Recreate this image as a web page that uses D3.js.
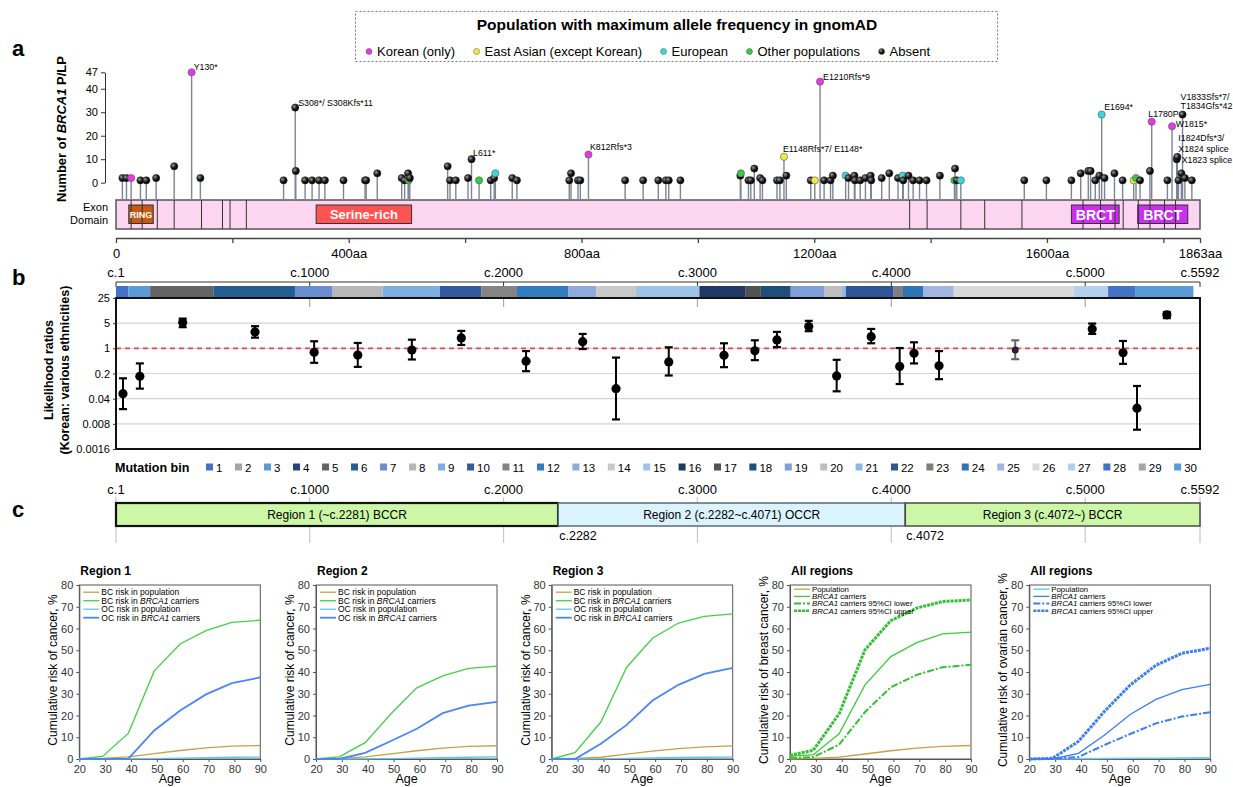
<!DOCTYPE html>
<html>
<head>
<meta charset="utf-8">
<script src="https://cdn.jsdelivr.net/npm/d3@7"></script>
<style>
body { margin: 0; background: #fff; }
svg { font-family: "Liberation Sans", Arial, sans-serif; }
</style>
</head>
<body>
<svg id="fig" width="1233" height="787"></svg>
<script>
// ---------- panel a: variants (amino-acid position, number of P/LP, population code) ----------
const variantAA = [11,18,26,42,52,69,100,130,145,288,308,309,325,337,349,359,391,428,430,449,491,496,502,503,505,
  570,574,584,605,611,624,644,650,652,681,689,779,782,794,798,812,875,906,932,945,950,970,
  1073,1074,1087,1091,1097,1107,1111,1136,1141,1148,1152,1194,1201,1210,1217,1228,1232,1254,1259,1269,1270,
  1279,1288,1297,1298,1316,1329,1344,1352,1353,1362,1370,1381,1393,1416,1442,1441,1445,1452,
  1561,1599,1642,1658,1671,1675,1683,1690,1694,1699,1716,1730,1749,1753,1760,1777,1780,1807,1815,
  1823,1824,1826,1831,1833,1837,1849];
const variantCount = [2,2,2,1,1,2,7,47,2,1,32,5,1,1,1,1,1,1,1,4,2,1,4,1,2,
  7,1,1,2,10,1,1,2,4,2,1,1,4,1,1,12,1,1,1,1,1,1,
  3,4,1,1,6,2,1,1,1,11,3,1,1,43,1,1,3,3,2,3,1,
  1,2,3,1,2,4,2,3,1,3,1,1,1,3,6,1,1,1,
  1,1,1,4,5,5,1,3,29,2,4,1,1,2,1,5,26,1,24,
  10,11,1,4,29,2,1];
// K = Korean (only), E = East Asian, U = European, O = other populations, A = absent
const variantPop = ["A","A","K","A","A","A","A","K","A","A","A","A","A","A","A","A","A","A","A","A","A","A","A","O","A",
  "A","A","A","A","A","O","A","A","U","A","A","A","A","A","A","K","A","A","A","A","A","A",
  "A","O","A","A","A","A","A","A","A","E","A","A","E","K","A","A","A","U","A","A","A",
  "A","A","A","A","A","A","A","U","A","A","A","A","A","A","A","O","A","U",
  "A","A","A","A","A","A","A","A","U","A","A","A","E","O","A","A","K","A","K",
  "A","A","A","A","A","A","A"];

const labelLines = [["Y130*"],["S308*/ S308Kfs*11"],["L611*"],["K812Rfs*3"],["E1148Rfs*7/ E1148*"],["E1210Rfs*9"],
  ["E1694*"],["L1780P"],["W1815*"],["V1833Sfs*7/","T1834Gfs*42"],["I1824Dfs*3/","X1824 splice"],["X1823 splice"]];
const labelAA = [130,308,611,812,1148,1210,1694,1780,1815,1833,1824,1823];
const labelCount = [47,32,10,12,11,43,29,26,24,29,11,10];

const exonBounds = [26,45,71,100,147,183,196,224,1364,1394,1452,1493,1557,1662,1692,1717,1731,1757,1777,1802,1821];
const domainName = ["RING","Serine-rich","BRCT","BRCT"];
const domainStart = [22,344,1642,1756];
const domainEnd = [64,508,1724,1842];

const popNames = ["Korean (only)","East Asian (except Korean)","European","Other populations","Absent"];
const popCodes = ["K","E","U","O","A"];

// ---------- panel b: likelihood ratios per mutation bin ----------
const binPos = [37,124,345,718,1023,1248,1527,1782,2116,2408,2580,2852,3137,3296,3410,3574,3718,3896,4043,4117,4246,4639,5036,5195,5267,5421];
const lrMid  = [0.055,0.168,5.2,2.86,0.773,0.65,0.90,1.94,0.44,1.53,0.076,0.42,0.64,0.857,1.71,4.02,0.171,2.11,0.314,0.725,0.326,0.90,3.46,0.753,0.0218,8.53];
const lrLow  = [0.0205,0.076,3.87,1.98,0.396,0.306,0.49,1.24,0.232,0.956,0.0106,0.176,0.30,0.47,1.087,2.99,0.064,1.38,0.102,0.381,0.139,0.50,2.51,0.371,0.0055,6.9];
const lrHigh = [0.147,0.381,6.7,4.12,1.57,1.41,1.74,3.05,0.84,2.51,0.553,1.07,1.38,1.67,2.86,5.8,0.48,3.46,1.02,1.47,0.84,1.67,4.87,1.6,0.09,10.2];
const lrTicks = [0.0016,0.008,0.04,0.2,1,5,25];

const segBin   = [1,3,5,6,7,8,9,10,11,12,13,14,15,16,17,18,19,20,21,22,23,24,25,26,27,28,30];
const segStart = [1,65,177,503,924,1115,1376,1672,1886,2069,2335,2477,2682,3010,3249,3327,3481,3656,3746,3766,4012,4060,4166,4322,4940,5118,5257];
const segLast = 5558;
const binColors = ["#4472c4","#a5a5a5","#5b9bd5","#264478","#636363","#255e91","#698ed0","#b7b7b7","#7cafdd","#335aa1",
  "#848484","#327dc2","#8faadc","#c9c9c9","#9dc3e6","#203864","#525252","#1f4e79","#7f9fd9","#bfbfbf",
  "#8cb8e3","#2f5597","#7f7f7f","#2e75b6","#a4b6e0","#d9d9d9","#b4d0ee","#4472c4","#a5a5a5","#5b9bd5"];
const cTicks = [1,1000,2000,3000,4000,5000,5592];

// ---------- panel c: regions ----------
const regionStart = [1,2282,4072];
const regionEnd = [2281,4071,5592];
const regionText = ["Region 1 (~c.2281) BCCR","Region 2 (c.2282~c.4071) OCCR","Region 3 (c.4072~) BCCR"];

// ---------- cumulative risk curves ----------
const ages = [20,29,39,49,59,69,79,90];
const r1BcPop = [0,0.3,1.0,2.5,3.9,5.1,5.9,6.2];
const r1BcCar = [0,1.2,11.9,40.5,52.9,59.0,62.8,63.8];
const r1OcPop = [0,0,0.1,0.2,0.4,0.6,0.8,0.9];
const r1OcCar = [0,0,0.2,13.1,22.3,29.7,34.9,37.5];
const r2BcPop = [0,0.3,1.0,2.4,3.8,5.0,5.8,6.1];
const r2BcCar = [0,1.0,7.5,20.8,32.7,38.2,41.7,42.7];
const r2OcPop = [0,0,0.1,0.2,0.4,0.6,0.8,1.0];
const r2OcCar = [0,0,2.8,8.3,13.9,21.1,24.5,26.3];
const r3BcPop = [0,0.3,0.8,2.2,3.6,4.8,5.6,6.0];
const r3BcCar = [0,2.9,17.0,42.2,55.5,62.5,65.6,66.7];
const r3OcPop = [0,0,0.1,0.3,0.5,0.7,0.8,0.9];
const r3OcCar = [0,0,7.0,15.7,26.9,34.1,39.1,41.9];
const allBcPop = [0,0.3,0.9,2.3,3.8,5.0,5.8,6.2];
const allBcCar = [1.2,2.0,11.6,34.1,47.1,53.5,57.5,58.3];
const allBcLow = [0.3,0.9,6.6,21.6,33.0,38.7,42.2,43.3];
const allBcUp  = [1.7,4.0,20.8,50.2,63.6,69.4,72.4,73.1];
const allOcPop = [0,0,0.1,0.2,0.3,0.4,0.5,0.6];
const allOcCar = [0,0,2.6,10.9,20.5,27.4,31.9,34.3];
const allOcLow = [0,0,0.9,6.4,11.5,16.4,19.5,21.5];
const allOcUp  = [0,0.3,8.1,21.8,34.0,43.1,48.6,50.9];

// ================= drawing =================
const svg = d3.select("#fig");
svg.append("rect").attr("width", 1233).attr("height", 787).attr("fill", "#fff");

const popColor = {K: "#e33be3", E: "#f2ea3c", U: "#3ad8e0", O: "#33cc44", A: "url(#blk)"};
const defs = svg.append("defs");
const grad = defs.append("radialGradient").attr("id", "blk").attr("cx", "35%").attr("cy", "35%").attr("r", "65%");
grad.append("stop").attr("offset", "0%").attr("stop-color", "#9a9a9a");
grad.append("stop").attr("offset", "60%").attr("stop-color", "#151515");
grad.append("stop").attr("offset", "100%").attr("stop-color", "#000");

function rich(sel, parts) {
  parts.forEach(p => sel.append("tspan").text(p[0]).attr("font-style", p[1] ? "italic" : null));
  return sel;
}

// panel letters
[["a", 56], ["b", 285], ["c", 517]].forEach(d => {
  svg.append("text").attr("x", 12).attr("y", d[1]).attr("font-size", 22).attr("font-weight", "bold").text(d[0]);
});

// ---------- legend box ----------
svg.append("rect").attr("x", 355.5).attr("y", 11.5).attr("width", 642).attr("height", 50)
  .attr("fill", "none").attr("stroke", "#777").attr("stroke-dasharray", "2,2");
svg.append("text").attr("x", 677).attr("y", 30).attr("text-anchor", "middle")
  .attr("font-size", 15.5).attr("font-weight", "bold").text("Population with maximum allele frequency in gnomAD");
let lx = 369;
popCodes.forEach((c, i) => {
  svg.append("circle").attr("cx", lx).attr("cy", 51.5).attr("r", 3).attr("fill", popColor[c]).attr("stroke", "#555").attr("stroke-width", 0.5);
  const t = svg.append("text").attr("x", lx + 8).attr("y", 56).attr("font-size", 13).text(popNames[i]);
  lx += 8 + t.node().getComputedTextLength() + 21.5;
});

// ---------- panel a ----------
const aaX = d3.scaleLinear().domain([0, 1863]).range([116, 1200]);
const cntY = d3.scaleLinear().domain([0, 47]).range([182.7, 72.3]);
const gA = svg.append("g");

gA.append("g").attr("transform", "translate(105,0)")
  .call(d3.axisLeft(cntY).tickValues([0, 10, 20, 30, 40, 47]).tickSize(4).tickSizeOuter(0))
  .call(g => g.selectAll("text").attr("font-size", 11).attr("font-family", null))
  .call(g => g.selectAll("line,path").attr("stroke", "#333"));

rich(gA.append("text").attr("transform", "translate(66,129) rotate(-90)").attr("text-anchor", "middle")
  .attr("font-size", 13).attr("font-weight", "bold"), [["Number of ", false], ["BRCA1", true], ["  P/LP", false]]);

gA.append("text").attr("x", 108).attr("y", 211).attr("text-anchor", "end").attr("font-size", 11).text("Exon");
gA.append("text").attr("x", 108).attr("y", 224).attr("text-anchor", "end").attr("font-size", 11).text("Domain");

// exon bar + domains
gA.append("rect").attr("x", aaX(0)).attr("y", 200).attr("width", aaX(1863) - aaX(0)).attr("height", 29)
  .attr("fill", "#fcd6f1").attr("stroke", "#555").attr("stroke-width", 1.5);
const domFill = ["#c55a11", "#ff5252", "#cc2ef0", "#cc2ef0"];
const domFont = [9, 13, 14, 14];
domainName.forEach((n, i) => {
  gA.append("rect").attr("x", aaX(domainStart[i])).attr("y", 205).attr("width", aaX(domainEnd[i]) - aaX(domainStart[i]))
    .attr("height", 18.5).attr("fill", domFill[i]).attr("stroke", "#333").attr("stroke-width", 1);
});
gA.selectAll(".exb").data(exonBounds).enter().append("line")
  .attr("x1", d => aaX(d)).attr("x2", d => aaX(d)).attr("y1", 200).attr("y2", 229)
  .attr("stroke", "#333").attr("stroke-width", 1);
domainName.forEach((n, i) => {
  gA.append("text").attr("x", (aaX(domainStart[i]) + aaX(domainEnd[i])) / 2).attr("y", 214.5 + domFont[i] * 0.36)
    .attr("text-anchor", "middle").attr("font-size", domFont[i]).attr("font-weight", "bold").attr("fill", "#fff").text(n);
});

// lollipops
gA.selectAll(".stem").data(variantAA).enter().append("line")
  .attr("x1", d => aaX(d)).attr("x2", d => aaX(d))
  .attr("y1", 200).attr("y2", (d, i) => cntY(variantCount[i]))
  .attr("stroke", "#7a8595").attr("stroke-width", 1.4);
gA.selectAll(".dot").data(variantAA).enter().append("circle")
  .attr("cx", d => aaX(d)).attr("cy", (d, i) => cntY(variantCount[i])).attr("r", 3.6)
  .attr("fill", (d, i) => popColor[variantPop[i]])
  .attr("stroke", (d, i) => variantPop[i] === "A" ? "#222" : "#555").attr("stroke-width", 0.6);

// variant labels
const labelDx = [2, 3, 1.5, 1.5, -1, 3, 2.5, -3.4, 3.7, -2, 1, 5];
const labelDy = [-2, -2, -3, -5, -5, -2, -5, -5, 0.5, -15, -15.5, 4];
const labelGap = [0, 0, 0, 0, 0, 0, 0, 0, 0, 9, 11, 0];
labelLines.forEach((lines, i) => {
  const x = aaX(labelAA[i]) + labelDx[i], y = cntY(labelCount[i]) + labelDy[i];
  lines.forEach((l, j) => {
    gA.append("text").attr("x", x).attr("y", y + j * labelGap[i]).attr("font-size", 8.8).text(l);
  });
});

// aa axis
gA.append("g").attr("transform", "translate(0,238)")
  .call(d3.axisBottom(aaX).tickValues([0, 200, 400, 600, 800, 1000, 1200, 1400, 1600, 1800, 1863]).tickSize(5).tickSizeOuter(0)
    .tickFormat(d => d === 0 ? "0" : ([400, 800, 1200, 1600, 1863].includes(d) ? d + "aa" : "")))
  .call(g => g.selectAll("text").attr("font-size", 13).attr("font-family", null).attr("dy", "0.9em"))
  .call(g => g.selectAll("line,path").attr("stroke", "#444").attr("stroke-width", 1.3));

// ---------- panel b ----------
const cX = d3.scaleLinear().domain([1, 5592]).range([116, 1200]);
const lrY = d3.scaleLog().domain([0.0016, 25]).range([449, 298]);
const gB = svg.append("g");

gB.append("line").attr("x1", cX(1)).attr("x2", cX(5592)).attr("y1", 282).attr("y2", 282).attr("stroke", "#333").attr("stroke-width", 1.2);
cTicks.forEach(c => {
  gB.append("line").attr("x1", cX(c)).attr("x2", cX(c)).attr("y1", 282).attr("y2", 287).attr("stroke", "#333");
  gB.append("text").attr("x", cX(c)).attr("y", 277).attr("text-anchor", "middle").attr("font-size", 13).text("c." + c);
});

// colour bar of bins
segBin.forEach((b, i) => {
  const s = segStart[i], e = i < segBin.length - 1 ? segStart[i + 1] : segLast;
  gB.append("rect").attr("x", cX(s)).attr("y", 286).attr("width", cX(e) - cX(s)).attr("height", 11.5).attr("fill", binColors[b - 1]);
});

// grid
lrTicks.slice(1, -1).forEach(t => {
  gB.append("line").attr("x1", cX(1)).attr("x2", cX(5592)).attr("y1", lrY(t)).attr("y2", lrY(t)).attr("stroke", "#d4d4d4").attr("stroke-width", 1.2);
});
cTicks.slice(1, -1).forEach(c => {
  gB.append("line").attr("x1", cX(c)).attr("x2", cX(c)).attr("y1", 298).attr("y2", 307).attr("stroke", "#aaa").attr("stroke-width", 1.2);
});
gB.append("line").attr("x1", cX(1)).attr("x2", cX(5592)).attr("y1", lrY(1)).attr("y2", lrY(1))
  .attr("stroke", "#e8474c").attr("stroke-width", 1.6).attr("stroke-dasharray", "5,4");
gB.append("rect").attr("x", cX(1)).attr("y", 298).attr("width", cX(5592) - cX(1)).attr("height", 151)
  .attr("fill", "none").attr("stroke", "#111").attr("stroke-width", 2);

gB.append("g").attr("transform", "translate(116,0)")
  .call(d3.axisLeft(lrY).tickValues(lrTicks).tickFormat(d => String(d)).tickSize(3).tickSizeOuter(0))
  .call(g => g.select(".domain").remove())
  .call(g => g.selectAll("text").attr("font-size", 11).attr("font-family", null))
  .call(g => g.selectAll("line").attr("stroke", "#333"));

gB.append("text").attr("transform", "translate(53,370) rotate(-90)").attr("text-anchor", "middle")
  .attr("font-size", 12.5).attr("font-weight", "bold").text("Likelihood ratios");
gB.append("text").attr("transform", "translate(69,370) rotate(-90)").attr("text-anchor", "middle")
  .attr("font-size", 12.5).attr("font-weight", "bold").text("(Korean: various ethnicities)");

// error bars and points
const mutedPoint = 21;
binPos.forEach((c, i) => {
  const x = cX(c), col = i === mutedPoint ? "#666" : "#000";
  gB.append("line").attr("x1", x).attr("x2", x).attr("y1", lrY(lrLow[i])).attr("y2", lrY(lrHigh[i])).attr("stroke", col).attr("stroke-width", 2);
  [lrLow[i], lrHigh[i]].forEach(v => {
    gB.append("line").attr("x1", x - 4).attr("x2", x + 4).attr("y1", lrY(v)).attr("y2", lrY(v)).attr("stroke", col).attr("stroke-width", 2.2);
  });
  gB.append("circle").attr("cx", x).attr("cy", lrY(lrMid[i])).attr("r", i === mutedPoint ? 3.5 : 4.6)
    .attr("fill", i === mutedPoint ? "#223" : "#000");
});

// mutation bin legend
gB.append("text").attr("x", 115).attr("y", 472).attr("font-size", 12.5).attr("font-weight", "bold").text("Mutation bin");
let bx = 206;
binColors.forEach((col, i) => {
  gB.append("rect").attr("x", bx).attr("y", 463.5).attr("width", 7).attr("height", 7).attr("fill", col);
  const t = gB.append("text").attr("x", bx + 10).attr("y", 472).attr("font-size", 11.5).text(i + 1);
  bx += 10 + t.node().getComputedTextLength() + 12.6;
});

// ---------- panel c: region bar ----------
const gC = svg.append("g");
cTicks.forEach(c => {
  gC.append("line").attr("x1", cX(c)).attr("x2", cX(c)).attr("y1", 497).attr("y2", 543).attr("stroke", "#c8c8c8").attr("stroke-width", 1.2);
  gC.append("text").attr("x", cX(c)).attr("y", 494).attr("text-anchor", "middle").attr("font-size", 13).text("c." + c);
});
const regFill = ["#cbf7a6", "#dbf3fc", "#cbf7a6"];
const regStroke = ["#111", "#5a6b7a", "#4a4a4a"];
const regWidth = [2.2, 1.5, 1.5];
regionText.forEach((t, i) => {
  const x0 = cX(regionStart[i]), x1 = cX(regionEnd[i]);
  gC.append("rect").attr("x", x0).attr("y", 503).attr("width", x1 - x0).attr("height", 23)
    .attr("fill", regFill[i]).attr("stroke", regStroke[i]).attr("stroke-width", regWidth[i]);
  gC.append("text").attr("x", (x0 + x1) / 2).attr("y", 519).attr("text-anchor", "middle").attr("font-size", 12).text(t);
});
[2282, 4072].forEach(c => {
  gC.append("text").attr("x", cX(c) + 1).attr("y", 539.5).attr("font-size", 12.5).text("c." + c);
});

// ---------- cumulative risk charts ----------
const BCP = "#c9a046", BCC = "#44d044", OCP = "#5cc8f5", OCC = "#4a86f7";
const charts = [
  {x0: 79.3, title: "Region 1", ytitle: "Cumulative risk of cancer, %", leg: "region",
   series: [[r1BcPop, BCP, 1.3, null], [r1BcCar, BCC, 1.3, null], [r1OcPop, OCP, 1.3, null], [r1OcCar, OCC, 1.8, null]]},
  {x0: 316, title: "Region 2", ytitle: "Cumulative risk of cancer, %", leg: "region",
   series: [[r2BcPop, BCP, 1.3, null], [r2BcCar, BCC, 1.3, null], [r2OcPop, OCP, 1.3, null], [r2OcCar, OCC, 1.8, null]]},
  {x0: 551.7, title: "Region 3", ytitle: "Cumulative risk of cancer, %", leg: "region",
   series: [[r3BcPop, BCP, 1.3, null], [r3BcCar, BCC, 1.3, null], [r3OcPop, OCP, 1.3, null], [r3OcCar, OCC, 1.8, null]]},
  {x0: 790, title: "All regions", ytitle: "Cumulative risk of breast cancer, %", leg: "all",
   series: [[allBcPop, BCP, 1.3, null], [allBcCar, "#3ccc3c", 1.3, null], [allBcLow, "#33c033", 2, "7,2,2,2"], [allBcUp, "#33c033", 3, "3,1"]]},
  {x0: 1029.3, title: "All regions", ytitle: "Cumulative risk of ovarian cancer, %", leg: "all",
   series: [[allOcPop, "#6bcdf5", 1.5, null], [allOcCar, "#3a7ef5", 1.3, null], [allOcLow, "#3a7ef5", 2, "7,2,2,2"], [allOcUp, "#3a7ef5", 3, "3,1"]]}
];
const regionLegend = [[["BC risk in population", false]], [["BC risk in ", false], ["BRCA1", true], [" carriers", false]],
  [["OC risk in population", false]], [["OC risk in ", false], ["BRCA1", true], [" carriers", false]]];
const allLegend = [[["Population", false]], [["BRCA1", true], [" carriers", false]],
  [["BRCA1", true], [" carriers 95%CI lower", false]], [["BRCA1", true], [" carriers 95%CI upper", false]]];

charts.forEach(ch => {
  const x = d3.scaleLinear().domain([20, 90]).range([ch.x0, ch.x0 + 181]);
  const y = d3.scaleLinear().domain([0, 80]).range([759, 585]);
  const g = svg.append("g");
  g.append("text").attr("x", ch.x0 + 1).attr("y", 575).attr("font-size", 12).attr("font-weight", "bold").text(ch.title);
  g.append("rect").attr("x", ch.x0).attr("y", 585).attr("width", 181).attr("height", 174)
    .attr("fill", "none").attr("stroke", "#555").attr("stroke-width", 1);
  g.append("g").attr("transform", `translate(${ch.x0},0)`)
    .call(d3.axisLeft(y).tickValues(d3.range(0, 81, 10)).tickSize(3).tickSizeOuter(0))
    .call(a => a.selectAll("text").attr("font-size", 11).attr("font-family", null).attr("fill", "#333"))
    .call(a => a.selectAll("line,path").attr("stroke", "#555"));
  g.append("g").attr("transform", "translate(0,759)")
    .call(d3.axisBottom(x).tickValues(d3.range(20, 91, 10)).tickSize(3).tickSizeOuter(0))
    .call(a => a.selectAll("text").attr("font-size", 11).attr("font-family", null).attr("fill", "#333"))
    .call(a => a.selectAll("line,path").attr("stroke", "#555"));
  g.append("text").attr("x", ch.x0 + 90.5).attr("y", 783).attr("text-anchor", "middle").attr("font-size", 12.5).text("Age");
  g.append("text").attr("transform", `translate(${ch.x0 - 22},670) rotate(-90)`).attr("text-anchor", "middle")
    .attr("font-size", 12).text(ch.ytitle);

  const line = d3.line().x((d, i) => x(ages[i])).y(d => y(d));
  ch.series.forEach(s => {
    g.append("path").attr("d", line(s[0])).attr("fill", "none").attr("stroke", s[1])
      .attr("stroke-width", s[2]).attr("stroke-dasharray", s[3]);
  });

  const isRegion = ch.leg === "region";
  const legItems = isRegion ? regionLegend : allLegend;
  const ly0 = isRegion ? 595 : 592, lstep = isRegion ? 8.5 : 7.2, lfs = isRegion ? 8.5 : 7.8;
  legItems.forEach((parts, i) => {
    const s = ch.series[i], yy = ly0 + i * lstep;
    g.append("line").attr("x1", ch.x0 + 4).attr("x2", ch.x0 + 20).attr("y1", yy - 2.8).attr("y2", yy - 2.8)
      .attr("stroke", s[1]).attr("stroke-width", Math.min(s[2], 2.5)).attr("stroke-dasharray", s[3]);
    rich(g.append("text").attr("x", ch.x0 + 22).attr("y", yy).attr("font-size", lfs), parts);
  });
});
</script>
</body>
</html>
